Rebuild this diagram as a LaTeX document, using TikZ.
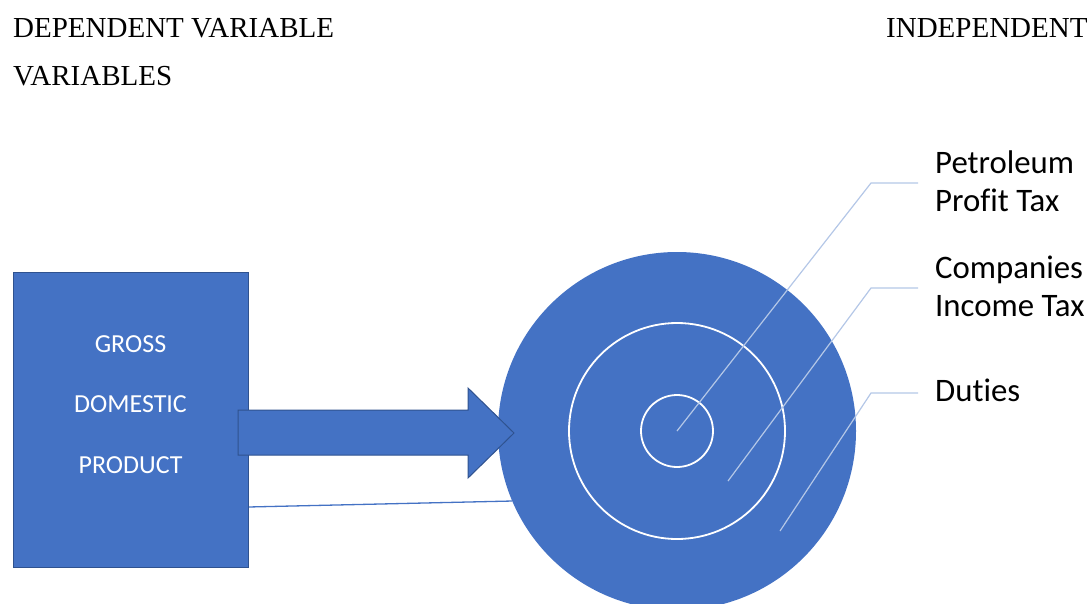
\documentclass[tikz,border=0pt]{standalone}
\usepackage{fontspec}
\setmainfont{Liberation Serif}
\newfontfamily\calib[Ligatures=NoCommon]{Carlito}
\usetikzlibrary{positioning}

\definecolor{wordblue}{HTML}{4472C4}
\definecolor{wordedge}{HTML}{2F528F}
\definecolor{leadblue}{HTML}{B4C7E7}

\begin{document}
\begin{tikzpicture}[x=1pt, y=-1pt,
    heading/.style={anchor=base west, inner sep=0, font=\fontsize{29}{34}\selectfont},
    gdpbox/.style={rectangle, fill=wordblue, draw=wordedge, line width=1pt, minimum width=235pt, minimum height=295pt, inner sep=0},
    gdptext/.style={align=center, text=white, inner sep=0, font=\calib\fontsize{26}{60.5}\selectfont},
    ring/.style={circle, draw=white, line width=1.8pt, inner sep=0},
    taxlabel/.style={anchor=base west, align=left, inner xsep=17pt, inner ysep=0, font=\calib\fontsize{32.8}{38}\selectfont},
    leader/.style={draw=leadblue, line width=1.2pt}]

    \useasboundingbox (0,0) rectangle (1089,603);

    \node (dep) [heading] at (13,37) {DEPENDENT VARIABLE};
    \node (vars) [heading] at (13,85) {VARIABLES};
    \node (indep) [heading] at (886,37) {INDEPENDENT};

    \coordinate (foot) at (248,507);
    \node (outer) [circle, fill=wordblue, minimum size=358pt, inner sep=0] at (677,431) {};
    \draw [wordblue, line width=1.3pt] (foot) -- (outer.203);

    \node (gdp) [gdpbox] at (130.5,419.5) {};
    % last line sits on the base anchor
    \node (gdpword) [gdptext, anchor=base] at (130.5,473) {GROSS\\DOMESTIC\\PRODUCT};

    \draw [fill=wordblue, draw=wordedge, line width=1pt]
        (238,410) -- (468,410) -- (468,388) -- (514,433) -- (468,478) -- (468,455) -- (238,455) -- cycle;

    \node (mid) [ring, minimum size=216pt] at (outer.center) {};
    \node (core) [ring, minimum size=72pt] at (outer.center) {};

    \node (ppt) [taxlabel] at (918,211) {Petroleum\\Profit Tax};
    \node (cit) [taxlabel] at (918,316) {Companies\\Income Tax};
    \node (duty) [taxlabel] at (918,401) {Duties};

    \coordinate (pbend) at (871,183);
    \coordinate (cbend) at (871,288);
    \coordinate (dbend) at (871,393);
    \coordinate (cfoot) at (728,481);
    \coordinate (dfoot) at (780,531);

    \draw [leader] (core.center) -- (pbend) -- (ppt.west |- pbend);
    \draw [leader] (cfoot) -- (cbend) -- (cit.west |- cbend);
    \draw [leader] (dfoot) -- (dbend) -- (duty.west |- dbend);

\end{tikzpicture}
\end{document}
